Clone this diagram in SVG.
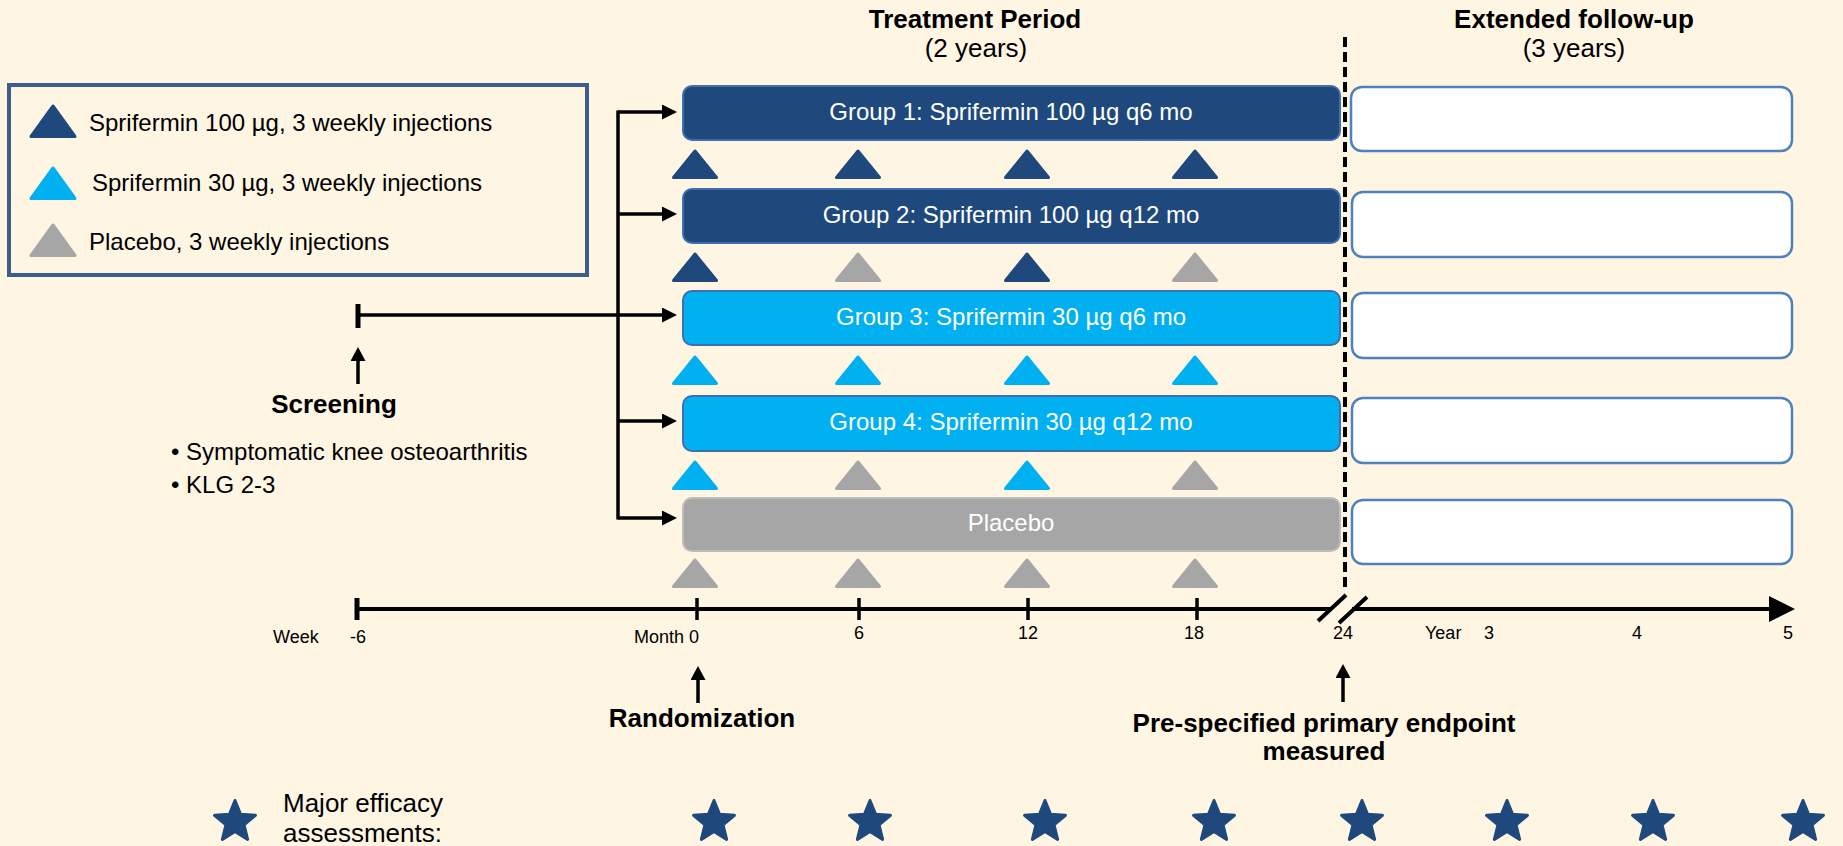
<svg xmlns="http://www.w3.org/2000/svg" xmlns:xlink="http://www.w3.org/1999/xlink" width="1843" height="846" viewBox="0 0 1843 846">
<style>
text{font-family:"Liberation Sans",Arial,sans-serif;fill:#000}
.t24{font-size:24px}
.t26{font-size:26px}
.b26{font-size:26px;font-weight:bold}
.ax{font-size:18px}
.wt{fill:#fff;font-size:24px;text-anchor:middle}
.mid{text-anchor:middle}
.dk{fill:#1F497D;stroke:#1F497D}
.lt{fill:#00B0F0;stroke:#00B0F0}
.gy{fill:#A6A6A6;stroke:#A6A6A6}
.gbox{stroke:#3F6FAE;stroke-width:2}
.fbox{fill:#fff;stroke:#4F81BD;stroke-width:2.5}
.ln{stroke:#000;stroke-width:3.5;fill:none}
</style>
<defs>
<path id="tri" d="M0,2 L21.5,28.5 L-21.5,28.5 Z" stroke-width="3" stroke-linejoin="round"/>
<path id="triL" d="M0,2 L22,32.5 L-22,32.5 Z" stroke-width="3" stroke-linejoin="round"/>
<path id="star" d="M0,-21.5 L5.58,-7.69 L20.45,-6.64 L9.04,2.94 L12.64,17.39 L0,9.5 L-12.64,17.39 L-9.04,2.94 L-20.45,-6.64 L-5.58,-7.69 Z" fill="#1F497D" stroke="#1F497D" stroke-width="3" stroke-linejoin="round"/>
<marker id="ah" markerUnits="userSpaceOnUse" markerWidth="15" markerHeight="15" refX="7" refY="7.5" orient="auto"><path d="M0,0 L15,7.5 L0,15 Z" fill="#000"/></marker>
<marker id="au" markerUnits="userSpaceOnUse" markerWidth="14" markerHeight="15" refX="6" refY="7.5" orient="auto"><path d="M0,0 L14,7.5 L0,15 Z" fill="#000"/></marker>
<marker id="ab" markerUnits="userSpaceOnUse" markerWidth="26" markerHeight="26" refX="6" refY="13" orient="auto"><path d="M0,0 L26,13 L0,26 Z" fill="#000"/></marker>
</defs>
<rect width="1843" height="846" fill="#FEF5E3"/>

<g id="legend">
<rect x="9" y="85" width="578" height="190" fill="none" stroke="#3B5E8C" stroke-width="4"/>
<use xlink:href="#triL" x="53" y="104" class="dk"/>
<text class="t24" x="89" y="131">Sprifermin 100 µg, 3 weekly injections</text>
<use xlink:href="#triL" x="53" y="166" class="lt"/>
<text class="t24" x="92" y="191">Sprifermin 30 µg, 3 weekly injections</text>
<use xlink:href="#triL" x="53" y="223" class="gy"/>
<text class="t24" x="89" y="250">Placebo, 3 weekly injections</text>
</g>

<g id="headers">
<text class="b26 mid" x="975" y="28">Treatment Period</text>
<text class="t26 mid" x="976" y="57">(2 years)</text>
<text class="b26 mid" x="1574" y="28">Extended follow-up</text>
<text class="t26 mid" x="1574" y="57">(3 years)</text>
</g>

<g id="group1">
<rect x="683" y="86" width="657" height="54" rx="9" class="dk gbox"/>
<text class="wt" x="1011" y="120">Group 1: Sprifermin 100 µg q6 mo</text>
</g>
<g id="group2">
<rect x="683" y="189" width="657" height="54" rx="9" class="dk gbox"/>
<text class="wt" x="1011" y="223">Group 2: Sprifermin 100 µg q12 mo</text>
</g>
<g id="group3">
<rect x="683" y="291" width="657" height="54" rx="9" class="lt gbox"/>
<text class="wt" x="1011" y="325">Group 3: Sprifermin 30 µg q6 mo</text>
</g>
<g id="group4">
<rect x="683" y="396" width="657" height="55" rx="9" class="lt gbox"/>
<text class="wt" x="1011" y="430">Group 4: Sprifermin 30 µg q12 mo</text>
</g>
<g id="placebo">
<rect x="683" y="498" width="657" height="53" rx="9" fill="#A6A6A6" stroke="#BDBDBD" stroke-width="2"/>
<text class="wt" x="1011" y="531">Placebo</text>
</g>

<g id="followup">
<rect x="1351" y="87" width="441" height="64" rx="11" class="fbox"/>
<rect x="1352" y="192" width="440" height="65" rx="11" class="fbox"/>
<rect x="1352" y="293" width="440" height="65" rx="11" class="fbox"/>
<rect x="1352" y="398" width="440" height="65" rx="11" class="fbox"/>
<rect x="1352" y="500" width="440" height="64" rx="11" class="fbox" stroke="#A6A6A6"/>
</g>

<g id="injections">
<use xlink:href="#tri" x="695" y="149" class="dk"/>
<use xlink:href="#tri" x="858" y="149" class="dk"/>
<use xlink:href="#tri" x="1027" y="149" class="dk"/>
<use xlink:href="#tri" x="1195" y="149" class="dk"/>
<use xlink:href="#tri" x="695" y="252" class="dk"/>
<use xlink:href="#tri" x="858" y="252" class="gy"/>
<use xlink:href="#tri" x="1027" y="252" class="dk"/>
<use xlink:href="#tri" x="1195" y="252" class="gy"/>
<use xlink:href="#tri" x="695" y="355" class="lt"/>
<use xlink:href="#tri" x="858" y="355" class="lt"/>
<use xlink:href="#tri" x="1027" y="355" class="lt"/>
<use xlink:href="#tri" x="1195" y="355" class="lt"/>
<use xlink:href="#tri" x="695" y="460" class="lt"/>
<use xlink:href="#tri" x="858" y="460" class="gy"/>
<use xlink:href="#tri" x="1027" y="460" class="lt"/>
<use xlink:href="#tri" x="1195" y="460" class="gy"/>
<use xlink:href="#tri" x="695" y="558" class="gy"/>
<use xlink:href="#tri" x="858" y="558" class="gy"/>
<use xlink:href="#tri" x="1027" y="558" class="gy"/>
<use xlink:href="#tri" x="1195" y="558" class="gy"/>
</g>

<g id="connectors">
<path class="ln" d="M618,110.5 V519.5"/>
<path class="ln" d="M618,112 H669" marker-end="url(#ah)"/>
<path class="ln" d="M618,214 H669" marker-end="url(#ah)"/>
<path class="ln" d="M358,315 H669" marker-end="url(#ah)" stroke-width="4"/>
<path class="ln" d="M618,421 H669" marker-end="url(#ah)"/>
<path class="ln" d="M618,518 H669" marker-end="url(#ah)"/>
<path d="M358,304 V328" stroke="#000" stroke-width="5"/>
<path class="ln" d="M358,384 V355" stroke-width="3" marker-end="url(#au)"/>
<path class="ln" d="M698,703 V674" stroke-width="3" marker-end="url(#au)"/>
<path class="ln" d="M1343,702 V672" stroke-width="3" marker-end="url(#au)"/>
<path d="M1345,37 V590" stroke="#000" stroke-width="4" stroke-dasharray="10,5"/>
</g>

<g id="timeline">
<path d="M357,609 H1331 M1352,609 H1775" stroke="#000" stroke-width="4" fill="none"/>
<path d="M1352,609 H1775" stroke="none" fill="none" marker-end="url(#ab)"/>
<path d="M1318,621 L1346,595 M1339,623 L1367,597" stroke="#000" stroke-width="4"/>
<path d="M357,598 V620" stroke="#000" stroke-width="5"/>
<path d="M697,598 V620 M859,598 V620 M1028,598 V620 M1197,598 V620" stroke="#000" stroke-width="3.5"/>
<text class="ax" x="273" y="643">Week</text>
<text class="ax mid" x="358" y="643">-6</text>
<text class="ax" x="699" y="643" text-anchor="end">Month 0</text>
<text class="ax mid" x="859" y="639">6</text>
<text class="ax mid" x="1028" y="639">12</text>
<text class="ax mid" x="1194" y="639">18</text>
<text class="ax mid" x="1343" y="639">24</text>
<text class="ax" x="1425" y="639">Year</text>
<text class="ax mid" x="1489" y="639">3</text>
<text class="ax mid" x="1637" y="639">4</text>
<text class="ax mid" x="1788" y="639">5</text>
</g>

<g id="screening">
<text class="b26 mid" x="334" y="413">Screening</text>
<text class="t24" x="171" y="460">• Symptomatic knee osteoarthritis</text>
<text class="t24" x="171" y="493">• KLG 2-3</text>
</g>
<g id="randomization">
<text class="b26 mid" x="702" y="727">Randomization</text>
</g>
<g id="endpoint">
<text class="b26 mid" x="1324" y="732">Pre-specified primary endpoint</text>
<text class="b26 mid" x="1324" y="760">measured</text>
</g>

<g id="assessments">
<use xlink:href="#star" x="235" y="822"/>
<text class="t26" x="283" y="812">Major efficacy</text>
<text class="t26" x="283" y="842">assessments:</text>
<use xlink:href="#star" x="714" y="822"/>
<use xlink:href="#star" x="870" y="822"/>
<use xlink:href="#star" x="1045" y="822"/>
<use xlink:href="#star" x="1214" y="822"/>
<use xlink:href="#star" x="1362" y="822"/>
<use xlink:href="#star" x="1507" y="822"/>
<use xlink:href="#star" x="1653" y="822"/>
<use xlink:href="#star" x="1803" y="822"/>
</g>
</svg>
